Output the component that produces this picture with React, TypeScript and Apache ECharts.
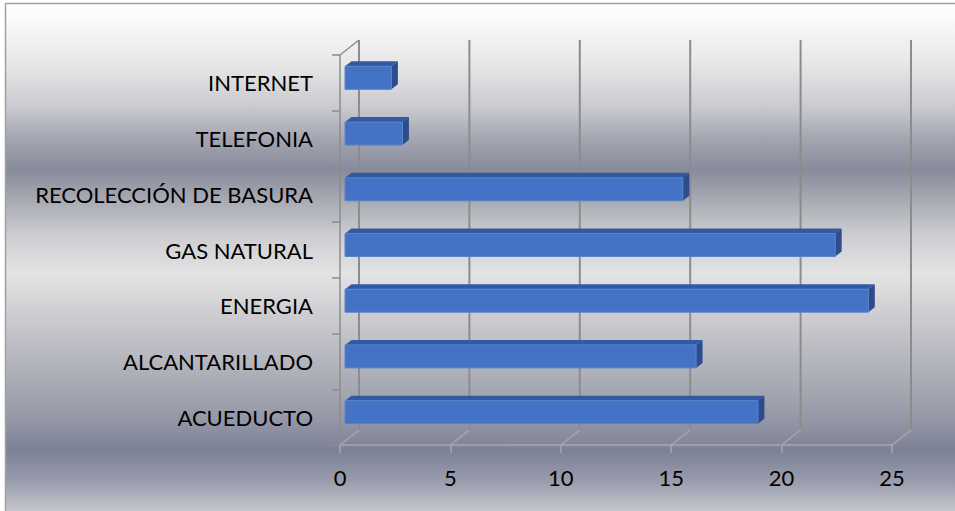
import React, { useEffect, useRef } from "react";
import * as echarts from "echarts";

const categories = [
  "INTERNET",
  "TELEFONIA",
  "RECOLECCIÓN DE BASURA",
  "GAS NATURAL",
  "ENERGIA",
  "ALCANTARILLADO",
  "ACUEDUCTO",
];
const values = [2.1, 2.6, 15.3, 22.2, 23.7, 15.9, 18.7];
const xTicks = [0, 5, 10, 15, 20, 25];

const DX = 19; // depth offset of back wall
const DY = -15;
const F_X = 5; // bar front face offset
const F_Y = -5;
const B_X = 6.5; // bar depth
const B_Y = -5;
const HALF = 11.5;

const FONT = "Lato, 'Noto Sans', sans-serif";

export default function App() {
  const ref = useRef<HTMLDivElement>(null);
  useEffect(() => {
    if (!ref.current) return;
    const chart = echarts.init(ref.current, undefined, { renderer: "svg" });
    const option: any = {
      animation: false,
      graphic: [
        {
          type: "rect",
          z: -10,
          silent: true,
          shape: { x: 5.5, y: 3.5, width: 960, height: 520 },
          style: {
            stroke: "#a0a0a0",
            lineWidth: 1.5,
            fill: new echarts.graphic.LinearGradient(0, 0, 0, 1, [
              { offset: 0, color: "#ffffff" },
              { offset: 0.03, color: "#fafafa" },
              { offset: 0.12, color: "#e6e6e6" },
              { offset: 0.2, color: "#c9cad0" },
              { offset: 0.26, color: "#a3a5b0" },
              { offset: 0.32, color: "#888b9a" },
              { offset: 0.38, color: "#a9abb4" },
              { offset: 0.45, color: "#cfcfd3" },
              { offset: 0.52, color: "#e3e3e4" },
              { offset: 0.6, color: "#cdcdd1" },
              { offset: 0.7, color: "#b1b3bb" },
              { offset: 0.8, color: "#9597a6" },
              { offset: 0.86, color: "#7d8196" },
              { offset: 0.92, color: "#9a9dad" },
              { offset: 1, color: "#d8d8dc" },
            ]),
          },
        },
      ],
      grid: { left: 340, right: 63, top: 55, bottom: 66, containLabel: false, outerBoundsMode: "none" },
      xAxis: {
        type: "value",
        min: 0,
        max: 25,
        interval: 5,
        splitLine: { show: false },
        axisLine: { show: true, lineStyle: { color: "#a8a8a8", width: 1.5 } },
        axisTick: { show: true, length: 8, lineStyle: { color: "#a8a8a8", width: 1.5 } },
        axisLabel: { color: "#000", fontSize: 22, fontFamily: FONT, margin: 21 },
      },
      yAxis: {
        type: "category",
        inverse: true,
        data: categories,
        axisLine: { show: true, lineStyle: { color: "#8c8c8c", width: 1.5 } },
        axisTick: { show: true, length: 8, lineStyle: { color: "#8c8c8c", width: 1.5 } },
        splitLine: { show: false },
        axisLabel: { color: "#000", fontSize: 22, fontFamily: FONT, margin: 27 },
      },
      series: [
        {
          type: "custom",
          z: 1,
          silent: true,
          data: xTicks.map((t) => [t, 0]),
          encode: { x: 0, y: 1 },
          renderItem: (params: any, api: any) => {
            const v = api.value(0);
            const cs = params.coordSys;
            const px = api.coord([v, 0])[0];
            const top = cs.y;
            const bot = cs.y + cs.height;
            const children: any[] = [
              {
                type: "line",
                shape: { x1: px + DX, y1: top + DY, x2: px + DX, y2: bot + DY },
                style: { stroke: "#8c8c8c", lineWidth: 2 },
              },
              {
                type: "line",
                shape: { x1: px, y1: bot, x2: px + DX, y2: bot + DY },
                style: { stroke: "#a8a8a8", lineWidth: 1.5 },
              },
            ];
            if (v === 0) {
              children.push({
                type: "line",
                shape: { x1: px, y1: top, x2: px + DX, y2: top + DY },
                style: { stroke: "#8c8c8c", lineWidth: 1.5 },
              });
            }
            return { type: "group", children };
          },
        },
        {
          type: "custom",
          z: 2,
          data: values.map((v, i) => [v, i]),
          encode: { x: 0, y: 1 },
          renderItem: (params: any, api: any) => {
            const v = api.value(0);
            const c = api.value(1);
            const p0 = api.coord([0, c]);
            const p1 = api.coord([v, c]);
            const fx0 = p0[0] + F_X;
            const fx1 = p1[0] + F_X;
            const fy = p0[1] + F_Y;
            const t = fy - HALF;
            const b = fy + HALF;
            return {
              type: "group",
              children: [
                {
                  type: "polygon",
                  shape: { points: [[fx0, t], [fx1, t], [fx1 + B_X, t + B_Y], [fx0 + B_X, t + B_Y]] },
                  style: { fill: "#3459a3" },
                },
                {
                  type: "polygon",
                  shape: { points: [[fx1, t], [fx1 + B_X, t + B_Y], [fx1 + B_X, b + B_Y], [fx1, b]] },
                  style: { fill: "#2c4c8c" },
                },
                {
                  type: "rect",
                  shape: { x: fx0, y: t, width: fx1 - fx0, height: 2 * HALF },
                  style: { fill: "#4472c4", stroke: "#5a84cc", lineWidth: 1 },
                },
              ],
            };
          },
        },
      ],
    };
    chart.setOption(option);
    return () => chart.dispose();
  }, []);
  return (
    <div
      ref={ref}
      style={{ position: "fixed", left: 0, top: 0, width: 955, height: 511, background: "#fff" }}
    />
  );
}
